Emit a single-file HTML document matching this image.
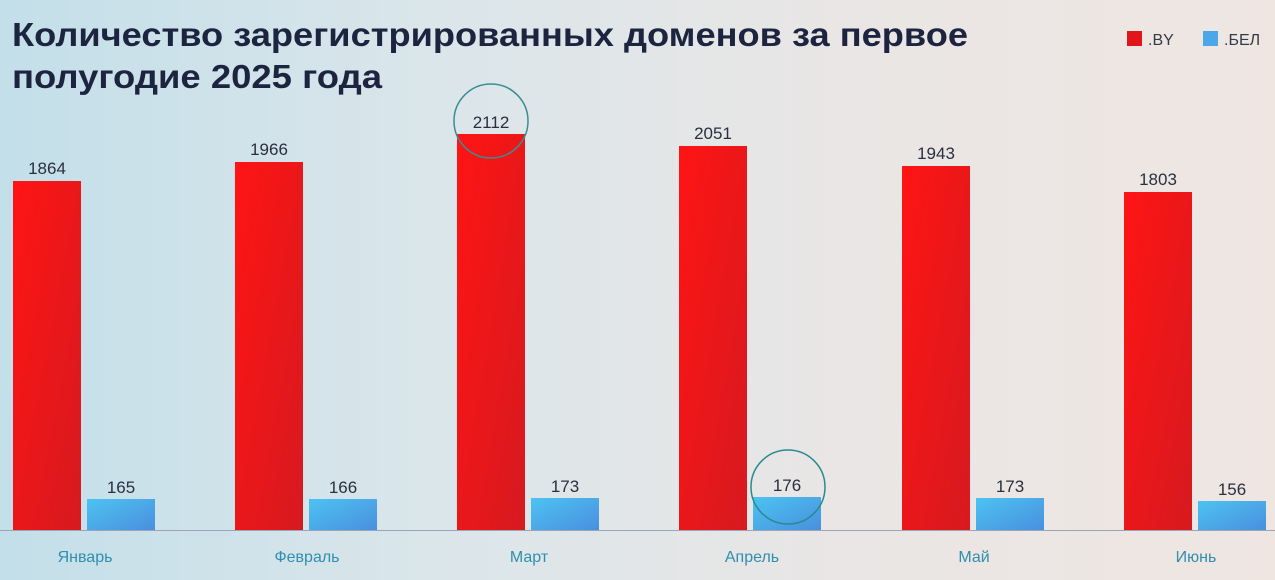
<!DOCTYPE html>
<html><head><meta charset="utf-8"><style>
html,body{margin:0;padding:0;}
body{width:1275px;height:580px;overflow:hidden;background:linear-gradient(90deg,#c3dfe9 0%,#dbe6ea 35%,#e9e6e5 65%,#efe6e2 100%);font-family:"Liberation Sans","DejaVu Sans",sans-serif;}
</style></head><body>
<svg width="1275" height="580" xmlns="http://www.w3.org/2000/svg" style="position:absolute;left:0;top:0">
<defs>
<linearGradient id="r" x1="0" y1="0" x2="1" y2="1"><stop offset="0" stop-color="#ff1414"/><stop offset="1" stop-color="#d61a1f"/></linearGradient>
<linearGradient id="b" x1="0" y1="0" x2="1" y2="1"><stop offset="0" stop-color="#4cc3f2"/><stop offset="1" stop-color="#4a8fde"/></linearGradient>
</defs>
<text x="12" y="46" font-size="33" font-weight="bold" fill="#1d2440" textLength="956" lengthAdjust="spacingAndGlyphs">Количество зарегистрированных доменов за первое</text>
<text x="12" y="88" font-size="33" font-weight="bold" fill="#1d2440" textLength="370" lengthAdjust="spacingAndGlyphs">полугодие 2025 года</text>
<rect x="1127" y="31" width="15" height="15" fill="#e0161b"/>
<text x="1148" y="45" font-size="16" fill="#333a4a">.BY</text>
<rect x="1203" y="31" width="15" height="15" fill="#4aa8e8"/>
<text x="1224" y="45" font-size="16" fill="#333a4a">.БЕЛ</text>
<line x1="0" y1="530.5" x2="1275" y2="530.5" stroke="#9aa6b8" stroke-width="1"/>
<g font-size="17" fill="#2a2f3f" text-anchor="middle">
<rect x="13" y="181" width="68" height="349" fill="url(#r)"/><text x="47" y="174">1864</text>
<rect x="87" y="499" width="68" height="31" fill="url(#b)"/><text x="121" y="493">165</text>
<rect x="235" y="162" width="68" height="368" fill="url(#r)"/><text x="269" y="155">1966</text>
<rect x="309" y="499" width="68" height="31" fill="url(#b)"/><text x="343" y="493">166</text>
<rect x="457" y="134" width="68" height="396" fill="url(#r)"/><text x="491" y="128">2112</text>
<rect x="531" y="498" width="68" height="32" fill="url(#b)"/><text x="565" y="492">173</text>
<rect x="679" y="146" width="68" height="384" fill="url(#r)"/><text x="713" y="139">2051</text>
<rect x="753" y="497" width="68" height="33" fill="url(#b)"/><text x="787" y="491">176</text>
<rect x="902" y="166" width="68" height="364" fill="url(#r)"/><text x="936" y="159">1943</text>
<rect x="976" y="498" width="68" height="32" fill="url(#b)"/><text x="1010" y="492">173</text>
<rect x="1124" y="192" width="68" height="338" fill="url(#r)"/><text x="1158" y="185">1803</text>
<rect x="1198" y="501" width="68" height="29" fill="url(#b)"/><text x="1232" y="495">156</text>
</g>
<circle cx="491" cy="121" r="37" fill="none" stroke="#3a8e92" stroke-width="1.5"/>
<circle cx="788" cy="487" r="37" fill="none" stroke="#2a8a8e" stroke-width="1.5"/>
<g font-size="16" fill="#2f8fae" text-anchor="middle">
<text x="85" y="562">Январь</text>
<text x="307" y="562">Февраль</text>
<text x="529" y="562">Март</text>
<text x="752" y="562">Апрель</text>
<text x="974" y="562">Май</text>
<text x="1196" y="562">Июнь</text>
</g>
</svg>
</body></html>
